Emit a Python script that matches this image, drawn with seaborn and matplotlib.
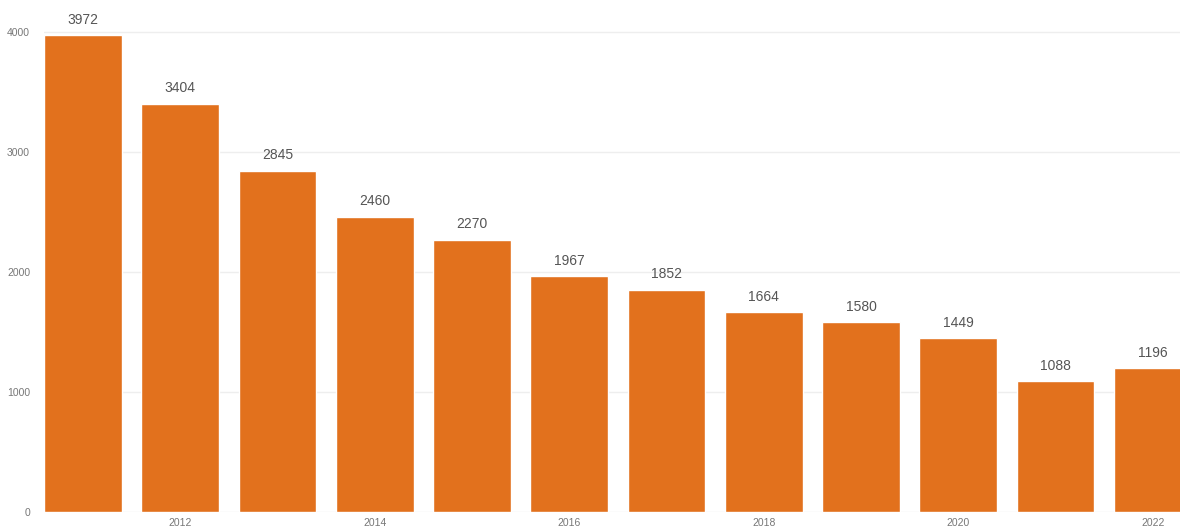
import pandas as pd
import matplotlib
matplotlib.use("Agg")
import matplotlib.pyplot as plt
import seaborn as sns

# data
years = [2011, 2012, 2013, 2014, 2015, 2016, 2017, 2018, 2019, 2020, 2021, 2022]
values = [3972, 3404, 2845, 2460, 2270, 1967, 1852, 1664, 1580, 1449, 1088, 1196]
shown_years = [2012, 2014, 2016, 2018, 2020, 2022]
y_ticks = [0, 1000, 2000, 3000, 4000]

sns.set_style("white")
plt.rcParams['font.family'] = ['Liberation Sans', 'DejaVu Sans']

df = pd.DataFrame({'year': [str(y) for y in years], 'value': values})

fig = plt.figure(figsize=(11.8, 5.28), dpi=100)
ax = fig.add_axes([44/1180, 16/528, 1136/1180, 512/528])

sns.barplot(data=df, x='year', y='value', color='#E2711D', saturation=1, width=0.8, ax=ax, zorder=2)

# value labels above each bar
for i, v in enumerate(values):
    ax.annotate(str(v), (i, v), xytext=(0, 6), textcoords='offset points',
                ha='center', va='bottom', fontsize=10, color='#555555')

ax.set_xlim(-0.4, 11.28)
ax.set_ylim(0, 4267)
ax.set_yticks(y_ticks)
ax.set_yticklabels([str(t) for t in y_ticks], fontsize=7.5, color='#777777')
ax.set_xticks([years.index(y) for y in shown_years])
ax.set_xticklabels([str(y) for y in shown_years], fontsize=7.5, color='#777777')
ax.tick_params(axis='both', length=0, pad=4)
ax.tick_params(axis='y', pad=10)
ax.yaxis.grid(True, color='#eeeeee', linewidth=1, zorder=0)
ax.set_xlabel('')
ax.set_ylabel('')
for s in ax.spines.values():
    s.set_visible(False)

fig.savefig('out.png', dpi=100)
